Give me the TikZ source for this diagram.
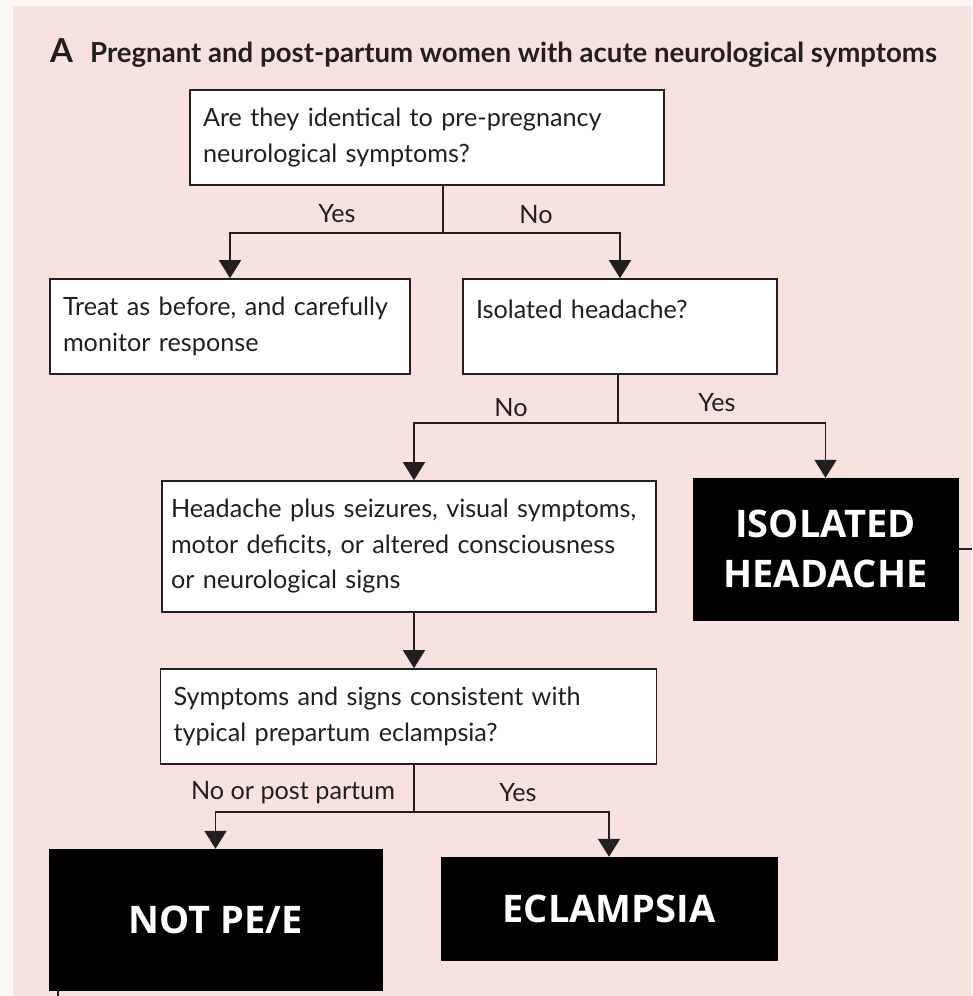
\documentclass[tikz,border=0pt]{standalone}
\usepackage{fontspec}
\usepackage{tikz}
\usetikzlibrary{arrows.meta}

\newfontfamily\bodyfont{Lato}
\newfontfamily\headfont{Open Sans}
\hyphenpenalty=10000

\definecolor{pinkbg}{RGB}{248,226,224}
\definecolor{paper}{RGB}{251,247,244}
\definecolor{ink}{RGB}{35,31,32}

\begin{document}
\begin{tikzpicture}[x=1pt,y=-1pt,
    qbox/.style={draw=ink, line width=1.6pt, fill=white, align=left,
      inner xsep=13pt, inner ysep=0pt, text=ink,
      font=\bodyfont\fontsize{25.2}{35.5}\selectfont},
    endbox/.style={draw=black, fill=black, text=white, align=center,
      inner sep=0pt, font=\headfont\bfseries\fontsize{38}{50}\selectfont},
    lbl/.style={text=ink, inner sep=0pt, font=\bodyfont\fontsize{25.2}{30}\selectfont},
    arrow/.style={draw=ink, line width=1.6pt, -{Triangle[width=22pt,length=18pt]}},
    link/.style={draw=ink, line width=1.6pt}]
    \useasboundingbox (0,0) rectangle (972,996);

    % Background
    \fill[paper] (0,0) rectangle (972,996);
    \fill[pinkbg] (13,6) rectangle (972,996);

    % Title
    \node[anchor=base west, inner sep=0pt, text=ink] (title) at (50,62)
      {\bodyfont\bfseries{\fontsize{33}{36}\selectfont A}\hspace{17pt}\fontsize{27.6}{32}\selectfont Pregnant and post-partum women with acute neurological symptoms};

    % Question boxes
    \node[qbox, text width=448pt, minimum height=95pt] (ident) at (427,137.5)
      {Are they identical to pre-pregnancy\\neurological symptoms?};
    \node[qbox, text width=334pt, minimum height=95pt] (treat) at (230,326.5)
      {Treat as before, and carefully\\monitor response};
    \node[qbox, text width=288pt, minimum height=95pt] (isolq) at (620,326.5)
      {Isolated headache?\\\mbox{}};
    \node[qbox, text width=476pt, inner xsep=9pt, minimum height=131pt] (plus) at (409,546.5)
      {Headache plus seizures, visual symptoms,\\motor deficits, or altered consciousness\\or neurological signs};
    \node[qbox, text width=470pt, minimum height=95pt] (typical) at (408.5,716.5)
      {Symptoms and signs consistent with\\typical prepartum eclampsia?};

    % Outcome boxes
    \node[endbox, minimum width=265pt, minimum height=142pt] (isolh) at (825.5,549)
      {ISOLATED\\HEADACHE};
    \node[endbox, minimum width=333pt, minimum height=141pt] (notpe) at (215.5,919.5)
      {NOT PE/E};
    \node[endbox, minimum width=336pt, minimum height=103pt] (eclam) at (609,908.5)
      {ECLAMPSIA};

    % Split points
    \coordinate (split1) at (443,233);
    \coordinate (split2) at (618,423);
    \coordinate (split3) at (414,812);
    \coordinate (offR) at (972,549);
    \coordinate (offB) at (58,996);

    % Connectors
    \draw[link] (ident.south -| split1) -- (split1);
    \draw[arrow] (split1) -| (treat.north);
    \draw[arrow] (split1) -| (isolq.north);
    \draw[link] (isolq.south -| split2) -- (split2);
    \draw[arrow] (split2) -| (plus.north -| split3);
    \draw[arrow] (split2) -| (isolh.north);
    \draw[arrow] (plus.south -| split3) -- (typical.north -| split3);
    \draw[link] (typical.south -| split3) -- (split3);
    \draw[arrow] (split3) -| (notpe.north);
    \draw[arrow] (split3) -| (eclam.north);
    \draw[link] (isolh.east) -- (offR);
    \draw[link] (notpe.south -| offB) -- (offB);

    % Labels
    \node[lbl] (yes1) at (337,214) {Yes};
    \node[lbl] (no1) at (536,215) {No};
    \node[lbl] (no2) at (511,408) {No};
    \node[lbl] (yes2) at (717,403) {Yes};
    \node[lbl] (nopost) at (293,793) {No or post partum};
    \node[lbl] (yes3) at (518,793) {Yes};
\end{tikzpicture}
\end{document}
